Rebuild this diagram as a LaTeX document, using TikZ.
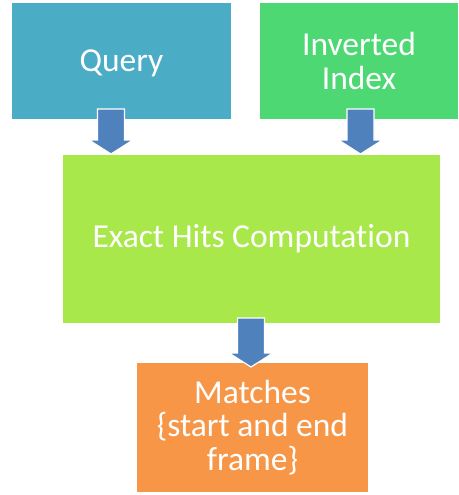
\documentclass[tikz,border=0pt]{standalone}
\usepackage{fontspec}
\setmainfont[Ligatures=NoCommon]{Carlito}
\usetikzlibrary{calc}

\definecolor{querycol}{HTML}{4BACC6}
\definecolor{indexcol}{HTML}{4DD874}
\definecolor{hitscol}{HTML}{A9E84B}
\definecolor{matchcol}{HTML}{F79646}
\definecolor{arrowcol}{HTML}{4F81BD}

\tikzset{
  box/.style={rectangle, draw=none, inner sep=0pt, text=white, align=center,
    font=\fontsize{33.5}{33.5}\selectfont},
  blockarrow/.style={fill=arrowcol, draw=white, line width=1.2pt, line join=miter,
    to path={let \p1=(\tikztostart), \p2=(\tikztotarget) in
      (\x1-13.5pt,\y1) -- (\x1+13.5pt,\y1) -- (\x1+13.5pt,\y2+14pt)
      -- (\x1+22pt,\y2+14pt) -- (\x1,\y2) -- (\x1-22pt,\y2+14pt)
      -- (\x1-13.5pt,\y2+14pt) -- cycle}},
}

\begin{document}
\begin{tikzpicture}[x=1pt, y=-1pt]
  \useasboundingbox (0,0) rectangle (458,495);

  % input boxes
  \node[box, fill=querycol, minimum width=219pt, minimum height=116pt, text depth=0pt] (q) at (121.5,61) {Query};
  \node[box, fill=indexcol, minimum width=198pt, minimum height=116pt] (ix) at (359,61) {Inverted\\Index};

  % processing step
  \node[box, fill=hitscol, minimum width=377pt, minimum height=168pt] (hits) at (251.5,239) {Exact Hits Computation};

  % output
  \node[box, fill=matchcol, minimum width=231pt, minimum height=129pt] (m) at (252.5,427.5) {Matches\\\{start and end\\frame\}};

  % connector end points
  \coordinate (a1s) at (111,109);
  \coordinate (a1e) at (111,154);
  \coordinate (a2s) at (360.5,109);
  \coordinate (a2e) at (360.5,154);
  \coordinate (a3s) at (251,318);
  \coordinate (a3e) at (251,367);

  % block arrows
  \path[blockarrow] (a1s) to (a1e);
  \path[blockarrow] (a2s) to (a2e);
  \path[blockarrow] (a3s) to (a3e);
\end{tikzpicture}
\end{document}
